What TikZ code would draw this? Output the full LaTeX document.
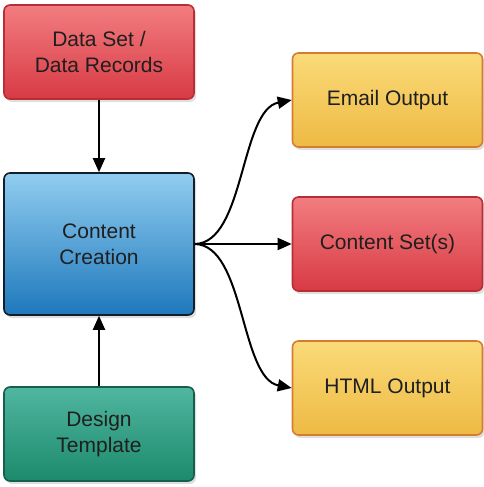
\documentclass[tikz,border=0pt]{standalone}
\usepackage{fontspec}
\setmainfont{Liberation Sans}
\usetikzlibrary{shadows,arrows.meta}
\definecolor{redtop}{RGB}{242,125,128}
\definecolor{redbot}{RGB}{216,58,68}
\definecolor{redline}{RGB}{185,45,52}
\definecolor{bluetop}{RGB}{145,205,240}
\definecolor{bluebot}{RGB}{30,120,188}
\definecolor{blueline}{RGB}{20,30,40}
\definecolor{greentop}{RGB}{80,182,160}
\definecolor{greenbot}{RGB}{28,138,108}
\definecolor{greenline}{RGB}{22,95,75}
\definecolor{yeltop}{RGB}{250,218,120}
\definecolor{yelbot}{RGB}{238,186,68}
\definecolor{yelline}{RGB}{212,125,48}
\tikzset{
  boxbase/.style={rectangle, rounded corners=6pt, minimum width=190pt, minimum height=94pt,
    line width=1.6pt, align=center, font=\fontsize{21}{26}\selectfont, text=black!88,
    drop shadow={shadow xshift=2pt, shadow yshift=-3pt, opacity=0.25}},
  redbox/.style={boxbase, draw=redline, top color=redtop, bottom color=redbot},
  bluebox/.style={boxbase, draw=blueline, top color=bluetop, bottom color=bluebot, minimum height=142pt},
  greenbox/.style={boxbase, draw=greenline, top color=greentop, bottom color=greenbot},
  yelbox/.style={boxbase, draw=yelline, top color=yeltop, bottom color=yelbot},
  conn/.style={line width=2pt, -{Triangle[length=14pt,width=12pt]}}
}
\begin{document}
\begin{tikzpicture}[x=1pt,y=-1pt]
\useasboundingbox (0,0) rectangle (483,487);
\node[redbox] (data) at (99,52) {Data Set /\\Data Records};
\node[bluebox] (content) at (99,244) {Content\\Creation};
\node[greenbox] (design) at (99,434) {Design\\Template};
\node[yelbox] (email) at (387.5,100) {Email Output};
\node[redbox] (cset) at (387.5,244) {Content Set(s)};
\node[yelbox] (html) at (387.5,388) {HTML Output};
\draw[conn] (data.south) -- (content.north);
\draw[conn] (design.north) -- (content.south);
\draw[conn] (content.east) -- (cset.west);
\draw[conn] (content.east) .. controls (245,243) and (240,110) .. (email.west);
\draw[conn] (content.east) .. controls (245,245) and (240,378) .. (html.west);
\end{tikzpicture}
\end{document}
